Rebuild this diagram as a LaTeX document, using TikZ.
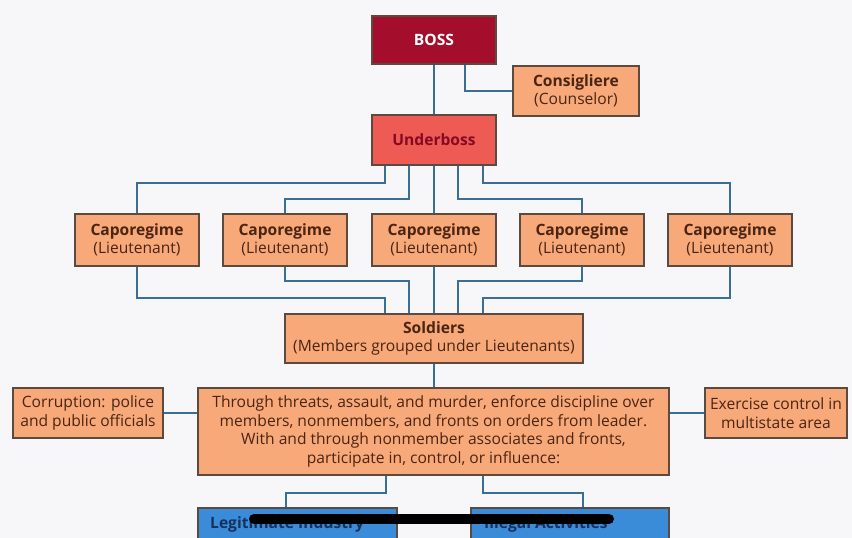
\documentclass[tikz,border=0pt]{standalone}
\usepackage{fontspec}
\setmainfont{Open Sans}
\definecolor{bgc}{HTML}{F7F7F9}
\definecolor{bossred}{HTML}{A50D2D}
\definecolor{ubred}{HTML}{EE5B55}
\definecolor{peach}{HTML}{F7A97A}
\definecolor{bord}{HTML}{5A4A40}
\definecolor{linec}{HTML}{3B6E94}
\definecolor{txtbrown}{HTML}{4B2412}
\definecolor{bluef}{HTML}{3A8BD8}
\definecolor{bluet}{HTML}{17305E}
\tikzset{
  box/.style={draw=bord, line width=1.2pt, fill=peach, text=txtbrown, align=center, inner sep=0pt,
    font=\fontsize{15.6}{18.6}\selectfont},
  conn/.style={draw=linec, line width=2.2pt},
  bluebox/.style={draw=bord, line width=1.2pt, fill=bluef, inner sep=0pt},
}
\begin{document}
\begin{tikzpicture}[x=1pt,y=-1pt]
\fill[bgc] (0,0) rectangle (852,538);
\useasboundingbox (0,0) rectangle (852,538);
\begin{scope}
\clip (0,0) rectangle (852,538);
% nodes
\node[box, fill=bossred, text=white, minimum width=124pt, minimum height=48pt] (boss) at (434,40) {\bfseries BOSS};
\node[box, minimum width=126pt, minimum height=50pt] (cons) at (576,91) {\bfseries Consigliere\\(Counselor)};
\node[box, fill=ubred, text=bossred!80!black, minimum width=124pt, minimum height=50pt] (ub) at (434,140) {\bfseries Underboss};
\foreach \i/\x in {1/137,2/285,3/434,4/582,5/730}{
  \node[box, minimum width=124pt, minimum height=52pt] (cap\i) at (\x,240) {\bfseries Caporegime\\(Lieutenant)};
}
\node[box, minimum width=298pt, minimum height=49pt] (sold) at (434,338.5) {\bfseries Soldiers\\(Members grouped under Lieutenants)};
\node[box, minimum width=471pt, minimum height=87pt] (big) at (433.5,431.5) {Through threats, assault, and murder, enforce discipline over\\members, nonmembers, and fronts on orders from leader.\\With and through nonmember associates and fronts,\\participate in, control, or influence:};
\node[box, minimum width=150pt, minimum height=50pt] (corr) at (88,413) {Corruption: police\\and public officials};
\node[box, minimum width=142pt, minimum height=50pt] (exer) at (776,413) {Exercise control in\\multistate area};
\node[bluebox, minimum width=199pt, minimum height=44pt] (leg) at (297.5,530) {};
\node[bluebox, minimum width=198pt, minimum height=44pt] (ill) at (570,530) {};
\node[anchor=base west, text=bluet, font=\fontsize{15.6}{17}\selectfont\bfseries, inner sep=0pt] (legt) at (210,528) {Legitimate Industry};
\node[anchor=base west, text=bluet, font=\fontsize{15.6}{17}\selectfont\bfseries, inner sep=0pt] (illt) at (484,528) {Illegal Activities};
% connectors
\draw[conn] (boss.south) -- (ub.north);
\draw[conn] ([xshift=31pt]boss.south) |- (cons.west);
\draw[conn] ([xshift=-49pt]ub.south) -- ++(0,17) -| (cap1.north);
\draw[conn] ([xshift=-25pt]ub.south) -- ++(0,33) -| (cap2.north);
\draw[conn] (ub.south) -- (cap3.north);
\draw[conn] ([xshift=24pt]ub.south) -- ++(0,33) -| (cap4.north);
\draw[conn] ([xshift=49pt]ub.south) -- ++(0,17) -| (cap5.north);
\draw[conn] (cap1.south) -- ++(0,31) -| ([xshift=-49pt]sold.north);
\draw[conn] (cap2.south) -- ++(0,14) -| ([xshift=-25pt]sold.north);
\draw[conn] (cap3.south) -- (sold.north);
\draw[conn] (cap4.south) -- ++(0,14) -| ([xshift=24pt]sold.north);
\draw[conn] (cap5.south) -- ++(0,31) -| ([xshift=49pt]sold.north);
\draw[conn] (sold.south) -- (sold.south |- big.north);
\draw[conn] (corr.east) -- (corr.east -| big.west);
\draw[conn] (exer.west) -- (exer.west -| big.east);
\draw[conn] ([xshift=-47.5pt]big.south) -- ++(0,17) -| ([xshift=-11.5pt]leg.north);
\draw[conn] ([xshift=49.5pt]big.south) -- ++(0,17) -| ([xshift=13pt]ill.north);
% redaction stroke
\draw[line width=10pt, line cap=round, black] (254,519) -- (609,519);
\end{scope}
\end{tikzpicture}
\end{document}
